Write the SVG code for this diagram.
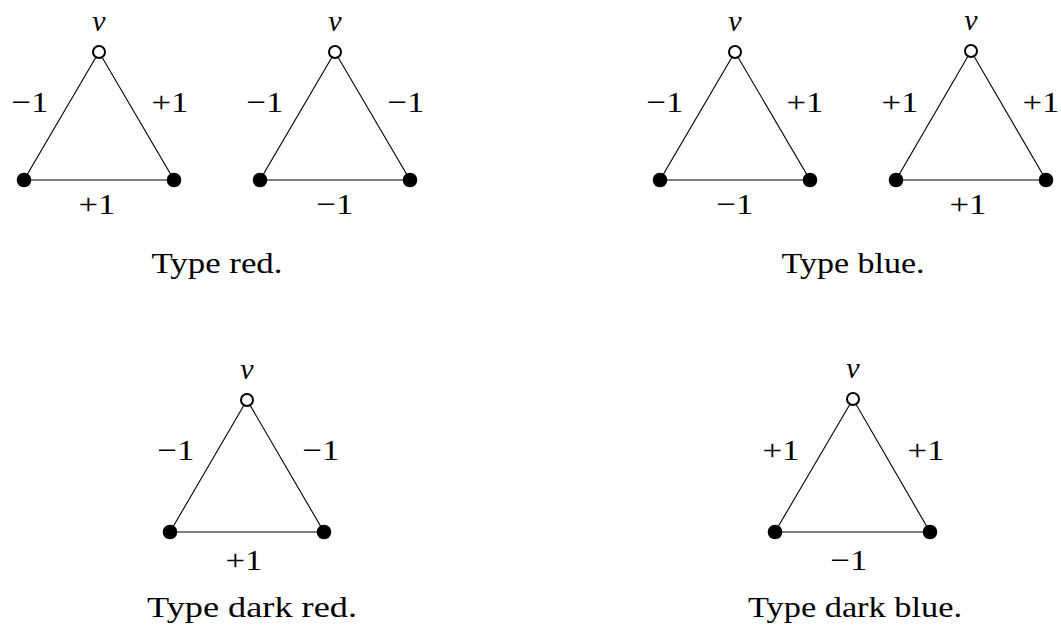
<svg xmlns="http://www.w3.org/2000/svg" width="1061" height="630" viewBox="0 0 1061 630">
<style>
  .edge { stroke: #000; stroke-width: 1.1; fill: none; }
  .open { fill: #fff; stroke: #000; stroke-width: 2; }
  .solid { fill: #000; stroke: none; }
  .v { font-style: italic; }
</style>
<rect width="1061" height="630" fill="#fff"/>
<g id="connectors">
  <path class="edge" d="M99,52 L24,180 L174,180 Z"/>
  <path class="edge" d="M335,52 L260,180 L410,180 Z"/>
  <path class="edge" d="M735,52 L660,180 L810,180 Z"/>
  <path class="edge" d="M971,51 L896,180 L1046,180 Z"/>
  <path class="edge" d="M247,400 L170,532 L324,532 Z"/>
  <path class="edge" d="M853,399 L775,532 L930,532 Z"/>
</g>
<g font-family="Liberation Serif, Times New Roman, serif" font-size="30" fill="#000" text-anchor="middle">
<g id="edge-labels">
  <text x="30" y="112" textLength="37" lengthAdjust="spacingAndGlyphs">−1</text>
  <text x="170" y="112" textLength="37" lengthAdjust="spacingAndGlyphs">+1</text>
  <text x="97" y="214" textLength="37" lengthAdjust="spacingAndGlyphs">+1</text>

  <text x="265" y="112" textLength="37" lengthAdjust="spacingAndGlyphs">−1</text>
  <text x="406" y="112" textLength="37" lengthAdjust="spacingAndGlyphs">−1</text>
  <text x="335" y="214" textLength="37" lengthAdjust="spacingAndGlyphs">−1</text>

  <text x="665" y="112" textLength="37" lengthAdjust="spacingAndGlyphs">−1</text>
  <text x="805" y="112" textLength="37" lengthAdjust="spacingAndGlyphs">+1</text>
  <text x="735" y="214" textLength="37" lengthAdjust="spacingAndGlyphs">−1</text>

  <text x="900" y="112" textLength="37" lengthAdjust="spacingAndGlyphs">+1</text>
  <text x="1041" y="112" textLength="37" lengthAdjust="spacingAndGlyphs">+1</text>
  <text x="968" y="214" textLength="37" lengthAdjust="spacingAndGlyphs">+1</text>

  <text x="176" y="460" textLength="37" lengthAdjust="spacingAndGlyphs">−1</text>
  <text x="321" y="460" textLength="37" lengthAdjust="spacingAndGlyphs">−1</text>
  <text x="244" y="570" textLength="37" lengthAdjust="spacingAndGlyphs">+1</text>

  <text x="781" y="460" textLength="37" lengthAdjust="spacingAndGlyphs">+1</text>
  <text x="926" y="460" textLength="37" lengthAdjust="spacingAndGlyphs">+1</text>
  <text x="849" y="570" textLength="37" lengthAdjust="spacingAndGlyphs">−1</text>
</g>
<g id="t1-v"><circle class="open" cx="99" cy="52" r="6"/><text class="v" x="99" y="31">v</text></g>
<g id="t1-a"><circle class="solid" cx="24" cy="180" r="7.3"/></g>
<g id="t1-b"><circle class="solid" cx="174" cy="180" r="7.3"/></g>
<g id="t2-v"><circle class="open" cx="335" cy="52" r="6"/><text class="v" x="335" y="31">v</text></g>
<g id="t2-a"><circle class="solid" cx="260" cy="180" r="7.3"/></g>
<g id="t2-b"><circle class="solid" cx="410" cy="180" r="7.3"/></g>
<g id="t3-v"><circle class="open" cx="735" cy="52" r="6"/><text class="v" x="735" y="31">v</text></g>
<g id="t3-a"><circle class="solid" cx="660" cy="180" r="7.3"/></g>
<g id="t3-b"><circle class="solid" cx="810" cy="180" r="7.3"/></g>
<g id="t4-v"><circle class="open" cx="971" cy="51" r="6"/><text class="v" x="971" y="30">v</text></g>
<g id="t4-a"><circle class="solid" cx="896" cy="180" r="7.3"/></g>
<g id="t4-b"><circle class="solid" cx="1046" cy="180" r="7.3"/></g>
<g id="t5-v"><circle class="open" cx="247" cy="400" r="6"/><text class="v" x="247" y="379">v</text></g>
<g id="t5-a"><circle class="solid" cx="170" cy="532" r="7.3"/></g>
<g id="t5-b"><circle class="solid" cx="324" cy="532" r="7.3"/></g>
<g id="t6-v"><circle class="open" cx="853" cy="399" r="6"/><text class="v" x="853" y="378">v</text></g>
<g id="t6-a"><circle class="solid" cx="775" cy="532" r="7.3"/></g>
<g id="t6-b"><circle class="solid" cx="930" cy="532" r="7.3"/></g>
<g id="captions">
  <text x="217" y="273" textLength="131" lengthAdjust="spacingAndGlyphs">Type red.</text>
  <text x="853" y="273" textLength="143" lengthAdjust="spacingAndGlyphs">Type blue.</text>
  <text x="252" y="617" textLength="210" lengthAdjust="spacingAndGlyphs">Type dark red.</text>
  <text x="855" y="617" textLength="214" lengthAdjust="spacingAndGlyphs">Type dark blue.</text>
</g>
</g>
</svg>
